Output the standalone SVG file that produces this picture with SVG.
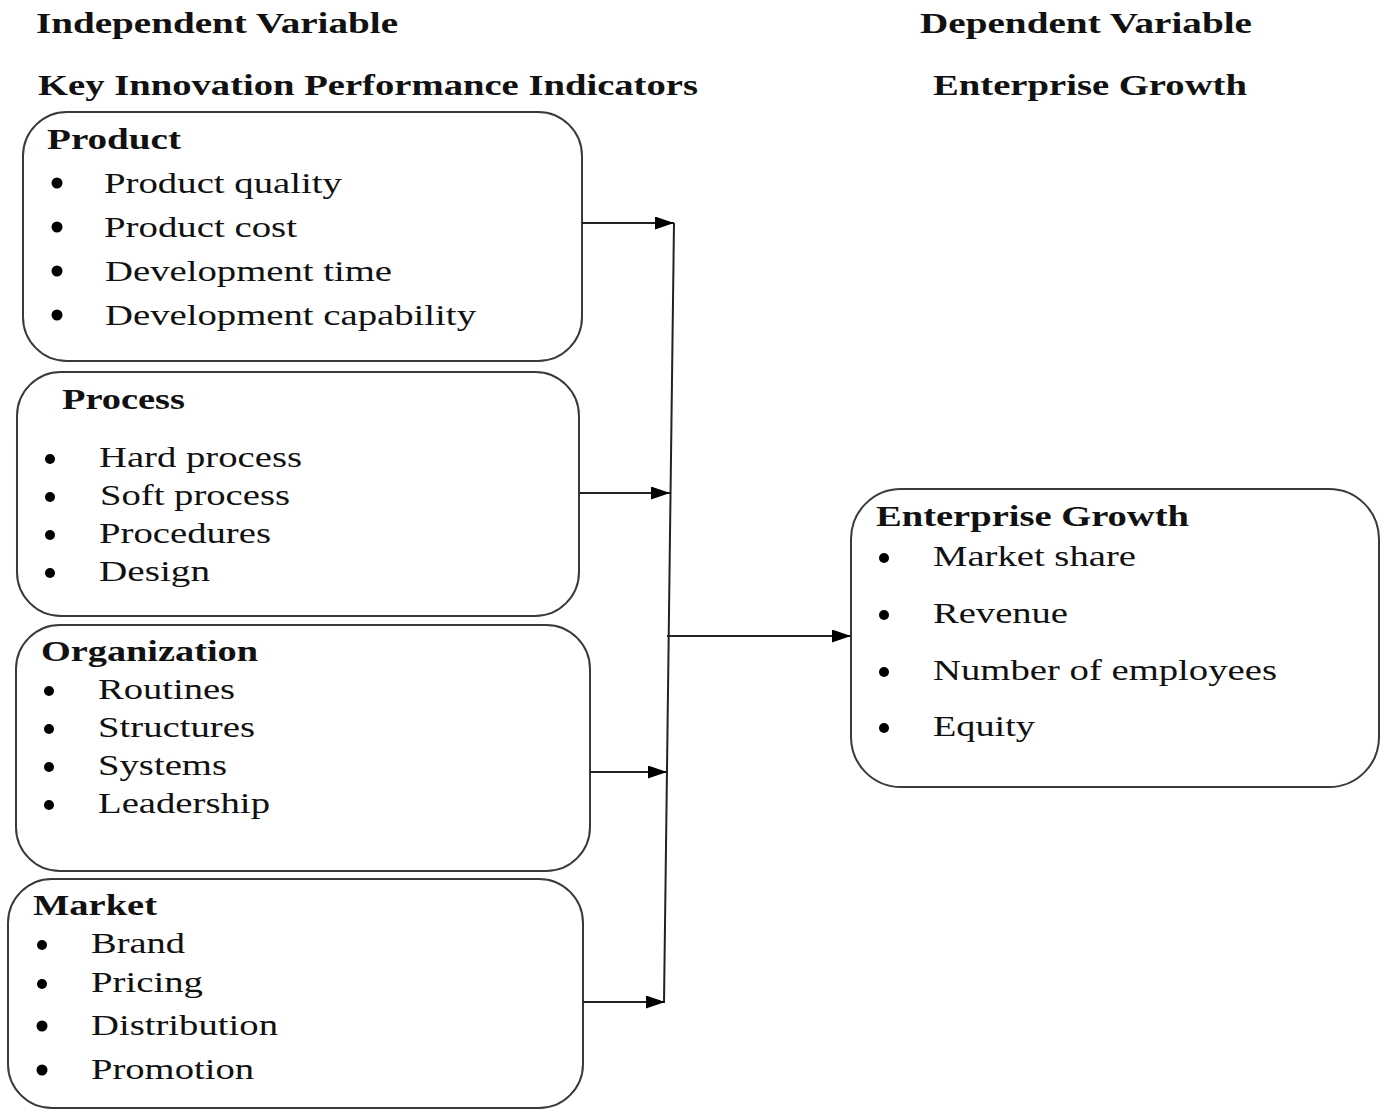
<svg xmlns="http://www.w3.org/2000/svg" width="1386" height="1111" viewBox="0 0 1386 1111">
  <style>
    .box { fill: #ffffff; stroke: #3a3a3a; stroke-width: 2; }
    .head { font-family: "Liberation Serif", "Times New Roman", serif; font-weight: bold; font-size: 29px; fill: #111; }
    .item { font-family: "Liberation Serif", "Times New Roman", serif; font-size: 30px; fill: #111; }
    .dot { fill: #000; }
    .link { fill: none; stroke: #222; stroke-width: 2; }
  </style>
  <defs>
    <marker id="arrow" viewBox="0 0 10 10" refX="10" refY="5" markerWidth="19" markerHeight="13" markerUnits="userSpaceOnUse" orient="auto" preserveAspectRatio="none">
      <path d="M0,0 L10,5 L0,10 Z" fill="#000"/>
    </marker>
  </defs>
  <rect width="1386" height="1111" fill="#ffffff"/>

  <!-- column headings -->
  <g id="headings">
    <text class="head" x="36" y="33" textLength="362" lengthAdjust="spacingAndGlyphs">Independent Variable</text>
    <text class="head" x="38" y="95" textLength="660" lengthAdjust="spacingAndGlyphs">Key Innovation Performance Indicators</text>
    <text class="head" x="920" y="33" textLength="332" lengthAdjust="spacingAndGlyphs">Dependent Variable</text>
    <text class="head" x="933" y="95" textLength="314" lengthAdjust="spacingAndGlyphs">Enterprise Growth</text>
  </g>

  <!-- Product -->
  <g id="product">
    <rect class="box" x="23" y="112" width="559" height="249" rx="44" ry="44"/>
    <text class="head" x="47" y="149" textLength="134" lengthAdjust="spacingAndGlyphs">Product</text>
    <circle class="dot" cx="57" cy="183" r="5.5"/>
    <text class="item" x="104" y="193" textLength="238" lengthAdjust="spacingAndGlyphs">Product quality</text>
    <circle class="dot" cx="57" cy="227" r="5.5"/>
    <text class="item" x="104" y="237" textLength="193" lengthAdjust="spacingAndGlyphs">Product cost</text>
    <circle class="dot" cx="57" cy="271" r="5.5"/>
    <text class="item" x="105" y="281" textLength="287" lengthAdjust="spacingAndGlyphs">Development time</text>
    <circle class="dot" cx="57" cy="315" r="5.5"/>
    <text class="item" x="105" y="325" textLength="371" lengthAdjust="spacingAndGlyphs">Development capability</text>
  </g>

  <!-- Process -->
  <g id="process">
    <rect class="box" x="17" y="372" width="562" height="244" rx="44" ry="44"/>
    <text class="head" x="62" y="409" textLength="123" lengthAdjust="spacingAndGlyphs">Process</text>
    <circle class="dot" cx="50" cy="459" r="5"/>
    <text class="item" x="99" y="467" textLength="203" lengthAdjust="spacingAndGlyphs">Hard process</text>
    <circle class="dot" cx="50" cy="497" r="5"/>
    <text class="item" x="100" y="505" textLength="190" lengthAdjust="spacingAndGlyphs">Soft process</text>
    <circle class="dot" cx="50" cy="535" r="5"/>
    <text class="item" x="99" y="543" textLength="172" lengthAdjust="spacingAndGlyphs">Procedures</text>
    <circle class="dot" cx="50" cy="573" r="5"/>
    <text class="item" x="99" y="581" textLength="111" lengthAdjust="spacingAndGlyphs">Design</text>
  </g>

  <!-- Organization -->
  <g id="organization">
    <rect class="box" x="16" y="625" width="574" height="246" rx="44" ry="44"/>
    <text class="head" x="41" y="661" textLength="217" lengthAdjust="spacingAndGlyphs">Organization</text>
    <circle class="dot" cx="49" cy="691" r="5"/>
    <text class="item" x="98" y="699" textLength="137" lengthAdjust="spacingAndGlyphs">Routines</text>
    <circle class="dot" cx="49" cy="729" r="5"/>
    <text class="item" x="98" y="737" textLength="157" lengthAdjust="spacingAndGlyphs">Structures</text>
    <circle class="dot" cx="49" cy="767" r="5"/>
    <text class="item" x="98" y="775" textLength="129" lengthAdjust="spacingAndGlyphs">Systems</text>
    <circle class="dot" cx="49" cy="805" r="5"/>
    <text class="item" x="98" y="813" textLength="172" lengthAdjust="spacingAndGlyphs">Leadership</text>
  </g>

  <!-- Market -->
  <g id="market">
    <rect class="box" x="8" y="879" width="575" height="229" rx="44" ry="44"/>
    <text class="head" x="33" y="915" textLength="124" lengthAdjust="spacingAndGlyphs">Market</text>
    <circle class="dot" cx="42" cy="945" r="5"/>
    <text class="item" x="91" y="953" textLength="94" lengthAdjust="spacingAndGlyphs">Brand</text>
    <circle class="dot" cx="42" cy="984" r="5"/>
    <text class="item" x="91" y="992" textLength="112" lengthAdjust="spacingAndGlyphs">Pricing</text>
    <circle class="dot" cx="42" cy="1026" r="5.5"/>
    <text class="item" x="91" y="1035" textLength="187" lengthAdjust="spacingAndGlyphs">Distribution</text>
    <circle class="dot" cx="42" cy="1070" r="5.5"/>
    <text class="item" x="91" y="1079" textLength="163" lengthAdjust="spacingAndGlyphs">Promotion</text>
  </g>

  <!-- Enterprise Growth -->
  <g id="growth">
    <rect class="box" x="851" y="489" width="528" height="298" rx="50" ry="50"/>
    <text class="head" x="876" y="526" textLength="313" lengthAdjust="spacingAndGlyphs">Enterprise Growth</text>
    <circle class="dot" cx="884" cy="558" r="5"/>
    <text class="item" x="933" y="566" textLength="203" lengthAdjust="spacingAndGlyphs">Market share</text>
    <circle class="dot" cx="884" cy="615" r="5"/>
    <text class="item" x="933" y="623" textLength="135" lengthAdjust="spacingAndGlyphs">Revenue</text>
    <circle class="dot" cx="884" cy="672" r="5"/>
    <text class="item" x="933" y="680" textLength="344" lengthAdjust="spacingAndGlyphs">Number of employees</text>
    <circle class="dot" cx="884" cy="728" r="5"/>
    <text class="item" x="933" y="736" textLength="102" lengthAdjust="spacingAndGlyphs">Equity</text>
  </g>

  <!-- connectors -->
  <g id="connectors">
    <line class="link" x1="674" y1="223" x2="664" y2="1003"/>
    <line class="link" x1="582" y1="223" x2="674" y2="223" marker-end="url(#arrow)"/>
    <line class="link" x1="579" y1="493" x2="670" y2="493" marker-end="url(#arrow)"/>
    <line class="link" x1="590" y1="772" x2="667" y2="772" marker-end="url(#arrow)"/>
    <line class="link" x1="583" y1="1002" x2="665" y2="1002" marker-end="url(#arrow)"/>
    <line class="link" x1="667" y1="636" x2="851" y2="636" marker-end="url(#arrow)"/>
  </g>
</svg>
